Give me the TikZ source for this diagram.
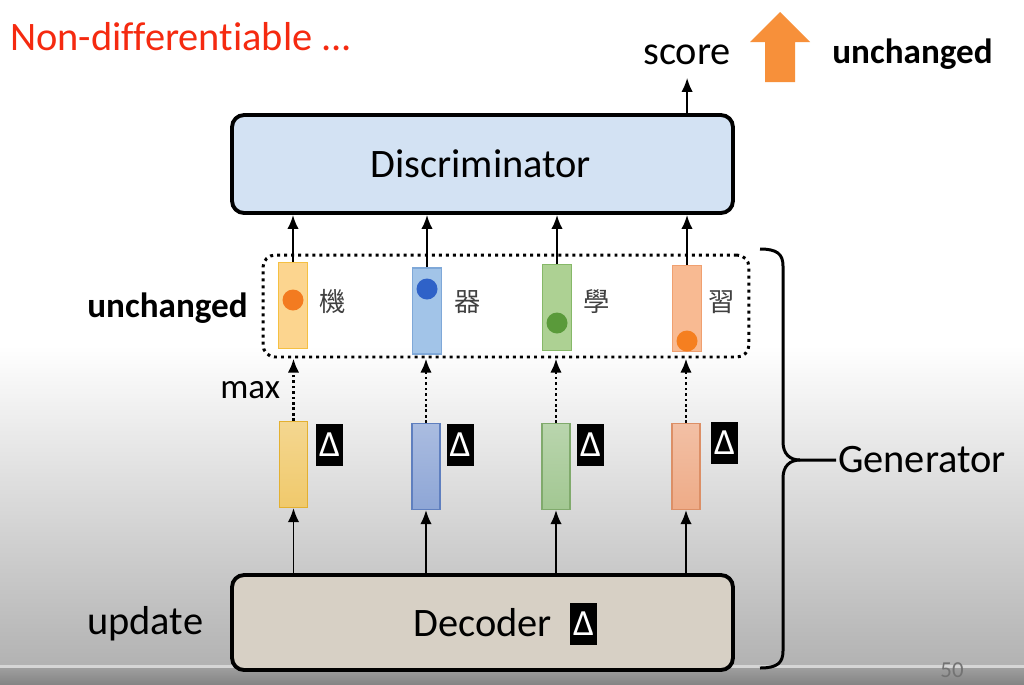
\documentclass[tikz,border=0pt]{standalone}
\usepackage{fontspec}
\setmainfont{Carlito}[Ligatures=NoCommon]
\newfontfamily\cjk{Noto Sans CJK TC}
\usetikzlibrary{arrows.meta}

\definecolor{titlered}{HTML}{F52A10}
\definecolor{discfill}{HTML}{D3E2F3}
\definecolor{decfill}{HTML}{D7D0C5}
\definecolor{bigorange}{HTML}{F7903A}
% one-hot bars (top row) and their dots
\definecolor{yelT}{HTML}{FCD58F}\definecolor{yelTd}{HTML}{F5C042}\definecolor{yelDot}{HTML}{F37B20}
\definecolor{bluT}{HTML}{A2C4E8}\definecolor{bluTd}{HTML}{7FA8D8}\definecolor{bluDot}{HTML}{2F62C8}
\definecolor{grnT}{HTML}{ADD193}\definecolor{grnTd}{HTML}{86B868}\definecolor{grnDot}{HTML}{5A9A3A}
\definecolor{orgT}{HTML}{F8BA92}\definecolor{orgTd}{HTML}{F0A070}\definecolor{orgDot}{HTML}{F57F20}
% distributions (bottom row)
\definecolor{yelB}{HTML}{F0C96B}\definecolor{yelBd}{HTML}{E3B030}
\definecolor{bluB}{HTML}{8EA6D6}\definecolor{bluBd}{HTML}{5F7FBF}
\definecolor{grnB}{HTML}{A2C792}\definecolor{grnBd}{HTML}{80AA6C}
\definecolor{orgB}{HTML}{EEAB87}\definecolor{orgBd}{HTML}{DC8F66}

\begin{document}
\begin{tikzpicture}[x=0.02cm, y=-0.02cm, font=\fontsize{23}{28}\selectfont]
\tikzset{
  bigbox/.style={draw, line width=2.2pt, rounded corners=0.24cm, minimum width=10.02cm, inner sep=0pt},
  bar/.style={draw, line width=0.6pt, minimum width=0.58cm, minimum height=1.72cm, inner sep=0pt},
  distbar/.style={bar, minimum width=0.56cm, top color=#1!75, bottom color=#1, draw=#1d},
  dot/.style={circle, minimum size=0.42cm, inner sep=0pt},
  deltabox/.style={fill=black, text=white, minimum width=0.54cm, minimum height=0.84cm, inner sep=0pt, font=\fontsize{21}{21}\selectfont},
  word/.style={anchor=base west, inner sep=0pt},
  hanzi/.style={text=black!75, font=\cjk\fontsize{15}{15}\selectfont},
  arr/.style={-{Latex[length=8pt,width=6.5pt]}, line width=1.1pt},
  dotarr/.style={-{Latex[length=8pt,width=6.5pt]}, line width=1.5pt, dash pattern=on 1.5pt off 1.6pt}
}
% background of the slide
\fill[white] (0,0) rectangle (1024,684);
\shade[top color=white, bottom color=black!30] (0,345) rectangle (1024,665);
\fill[black!16] (0,665) rectangle (1024,668);
\shade[top color=black!38, bottom color=black!48] (0,668) rectangle (1024,684);
\useasboundingbox (0,0) rectangle (1024,684);
\node[text=black!55, font=\fontsize{13}{13}\selectfont] (page) at (952,670) {50};

\node[word, text=titlered] (title) at (10,50) {Non-differentiable ...};

% discriminator and score
\node[bigbox, fill=discfill, minimum height=1.96cm] (D) at (482.5,164) {};
\node[word] (Dtxt) at (370,177) {Discriminator};
\node[word] (score) at (643,64) {score};
\node[word, font=\bfseries\fontsize{20}{24}\selectfont] (unch1) at (832,63) {unchanged};
\fill[bigorange] (765,82) -- (765,42) -- (750,42) -- (780,12) -- (810,42) -- (795,42) -- (795,82) -- cycle;
\draw[arr, shorten >=7.5pt] (D.north -| score.south) -- (score.south);

% sampled words
\node[draw, line width=1.7pt, dash pattern=on 1.7pt off 2.3pt, rounded corners=0.24cm,
      minimum width=9.72cm, minimum height=2.04cm] (W) at (506,306) {};
\node[bar, fill=yelT, draw=yelTd] (T1) at (293,305.5) {};
\node[bar, fill=bluT, draw=bluTd] (T2) at (427,311) {};
\node[bar, fill=grnT, draw=grnTd] (T3) at (557,307.5) {};
\node[bar, fill=orgT, draw=orgTd] (T4) at (687,308.5) {};
\node[dot, fill=yelDot] (P1) at (293,300) {};
\node[dot, fill=bluDot] (P2) at (427,289) {};
\node[dot, fill=grnDot] (P3) at (557,323) {};
\node[dot, fill=orgDot] (P4) at (687,341) {};
\node[hanzi] (C1) at (333,302) {機};
\node[hanzi] (C2) at (468,302) {器};
\node[hanzi] (C3) at (597,302) {學};
\node[hanzi] (C4) at (722,302) {習};
\node[word, font=\bfseries\fontsize{20}{24}\selectfont] (unch2) at (87,317) {unchanged};
\node[word, font=\fontsize{20}{24}\selectfont] (max) at (220,398) {max};

% distributions
\node[distbar=yelB] (B1) at (293.5,464.5) {};
\node[distbar=bluB] (B2) at (426,466.5) {};
\node[distbar=grnB] (B3) at (556,466.5) {};
\node[distbar=orgB] (B4) at (686,466.5) {};
\node[deltabox] (E1) at (329.5,445) {Δ};
\node[deltabox] (E2) at (460,445) {Δ};
\node[deltabox] (E3) at (590.5,445) {Δ};
\node[deltabox] (E4) at (724.5,443) {Δ};

% decoder
\node[bigbox, fill=decfill, minimum height=1.9cm] (Dec) at (482.5,622.5) {};
\node[word] (Dectxt) at (413,636) {Decoder};
\node[deltabox] (E5) at (583.5,624) {Δ};
\node[word] (update) at (87,634) {update};

% connectors
\draw[arr] (T1.north) -- (T1.north |- D.south);
\draw[arr] (T2.north) -- (T2.north |- D.south);
\draw[arr] (T3.north) -- (T3.north |- D.south);
\draw[arr] (T4.north) -- (T4.north |- D.south);
\draw[dotarr] (B1.north) -- (B1.north |- W.south);
\draw[dotarr] (B2.north) -- (B2.north |- W.south);
\draw[dotarr] (B3.north) -- (B3.north |- W.south);
\draw[dotarr] (B4.north) -- (B4.north |- W.south);
\draw[arr] (B1.south |- Dec.north) -- (B1.south);
\draw[arr] (B2.south |- Dec.north) -- (B2.south);
\draw[arr] (B3.south |- Dec.north) -- (B3.south);
\draw[arr] (B4.south |- Dec.north) -- (B4.south);

% generator brace
\node[anchor=west, inner sep=1pt] (Gen) at (836,460) {Generator};
\draw[line width=1.7pt] (760,249) .. controls (777,249) and (783,254) .. (783,266) -- (783,442)
  .. controls (783,454) and (790,460) .. (800,460) -- (Gen.west);
\draw[line width=1.7pt] (800,460) .. controls (790,460) and (783,466) .. (783,478) -- (783,651)
  .. controls (783,663) and (777,668) .. (760,668);
\end{tikzpicture}
\end{document}
